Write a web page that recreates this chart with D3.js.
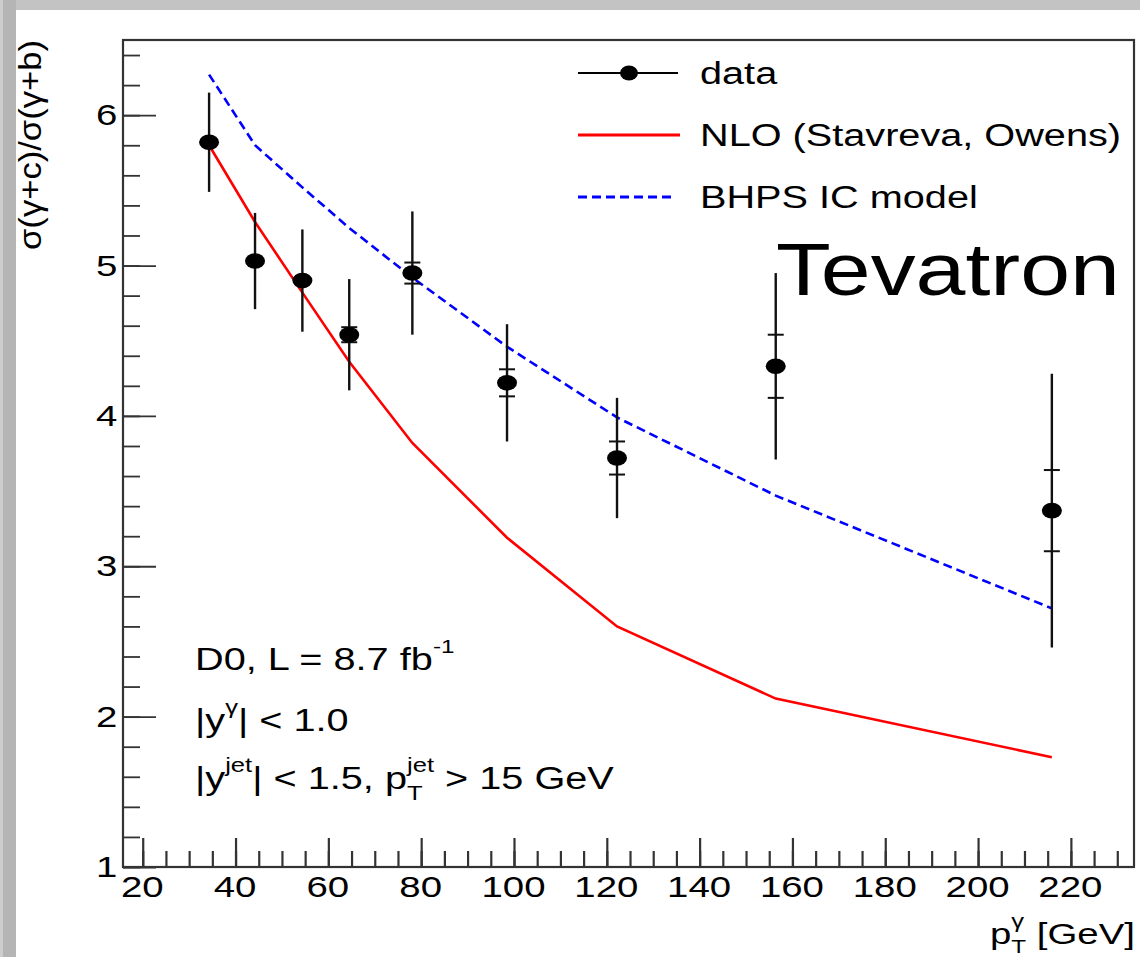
<!DOCTYPE html>
<html>
<head>
<meta charset="utf-8">
<script src="https://cdn.jsdelivr.net/npm/d3@7"></script>
<style>
  html, body { margin: 0; padding: 0; background: #ffffff; }
  svg { display: block; }
  text { font-family: "Liberation Sans", Arial, Helvetica, sans-serif; fill: #000; white-space: pre; }
</style>
</head>
<body>
<svg id="chart" width="1140" height="957"></svg>
<script>
// Photon transverse momentum bin centres [GeV]
const ptGamma = [34.3, 44.2, 54.4, 64.5, 78.1, 98.5, 122.2, 156.4, 215.9];
// Measured ratio sigma(gamma+c)/sigma(gamma+b)
const ratioData = [5.82, 5.03, 4.90, 4.54, 4.95, 4.22, 3.72, 4.33, 3.37];
// Statistical (inner) and total (outer) uncertainties
const statErr = [0.02, 0.02, 0.02, 0.05, 0.07, 0.09, 0.11, 0.21, 0.27];
const totalErr = [0.33, 0.32, 0.34, 0.37, 0.41, 0.39, 0.40, 0.62, 0.91];
// Theory curves
const nloValues = [5.80, 5.29, 4.82, 4.36, 3.82, 3.19, 2.60, 2.12, 1.73];
const bhpsValues = [6.27, 5.80, 5.52, 5.25, 4.92, 4.46, 3.99, 3.47, 2.72];
// Axis ticks
const xMajorTicks = [20, 40, 60, 80, 100, 120, 140, 160, 180, 200, 220];
const xMinorTicks = d3.range(20, 231, 5);
const yMajorTicks = [1, 2, 3, 4, 5, 6];
const yMinorTicks = d3.range(1, 6.41, 0.2);
// Legend entries
const legendLabels = ["data", "NLO (Stavreva, Owens)", "BHPS IC model"];

const SX = 1.28; // horizontal stretch of the chart's lettering and markers
const svg = d3.select("#chart");

// page frame
svg.append("rect").attr("x", 0).attr("y", 0).attr("width", 1140).attr("height", 957).attr("fill", "#ffffff");
svg.append("rect").attr("x", 0).attr("y", 0).attr("width", 1140).attr("height", 10).attr("fill", "#c3c3c3");
svg.append("rect").attr("x", 0).attr("y", 0).attr("width", 16).attr("height", 957).attr("fill", "#b5b5b5");
svg.append("rect").attr("x", 0).attr("y", 0).attr("width", 3).attr("height", 957).attr("fill", "#cdcdcd");

const L = 123, R = 1134, T = 40, B = 867;
const x = d3.scaleLinear().domain([15.75, 233.6]).range([L, R]);
const y = d3.scaleLinear().domain([1, 6.5]).range([B, T]);

// helper for text made of runs with super/subscripts
function richText(parent, px, py, parts, anchor) {
  const g = parent.append("g");
  const inner = g.append("g");
  let cur = 0;
  const put = (q, at) => {
    const el = inner.append("text").attr("x", at).attr("y", q.dy || 0)
      .attr("font-size", q.size).attr("xml:space", "preserve").text(q.t);
    return el.node().getComputedTextLength();
  };
  parts.forEach(p => {
    if (p.stack) {
      let w = 0;
      p.stack.forEach(q => { w = Math.max(w, put(q, cur)); });
      cur += w;
    } else {
      cur += put(p, cur);
    }
  });
  const tx = anchor === "end" ? px - cur * SX : px;
  g.attr("transform", `translate(${tx},${py}) scale(${SX},1)`);
  return g;
}

// minor ticks
svg.append("g").attr("transform", `translate(0,${B})`)
  .call(d3.axisBottom(x).tickValues(xMinorTicks).tickSize(-16).tickSizeOuter(0).tickFormat(""))
  .call(g => g.select(".domain").remove())
  .call(g => g.selectAll("line").attr("stroke", "#333").attr("stroke-width", 2.2));
svg.append("g").attr("transform", `translate(${L},0)`)
  .call(d3.axisLeft(y).tickValues(yMinorTicks).tickSize(-17).tickSizeOuter(0).tickFormat(""))
  .call(g => g.select(".domain").remove())
  .call(g => g.selectAll("line").attr("stroke", "#333").attr("stroke-width", 1.8));

// major ticks and labels
svg.append("g").attr("transform", `translate(0,${B})`)
  .call(d3.axisBottom(x).tickValues(xMajorTicks).tickSize(-29).tickSizeOuter(0).tickPadding(9).tickFormat(d3.format("d")))
  .call(g => g.select(".domain").remove())
  .call(g => g.selectAll("line").attr("stroke", "#333").attr("stroke-width", 2.2))
  .call(g => g.selectAll("text").attr("font-size", 30).attr("fill", "#000")
    .attr("font-family", "Liberation Sans, Arial, sans-serif")
    .attr("transform", `translate(-1,0) scale(${SX},1)`));
svg.append("g").attr("transform", `translate(${L},0)`)
  .call(d3.axisLeft(y).tickValues(yMajorTicks).tickSize(-33).tickSizeOuter(0).tickPadding(4.5).tickFormat(d3.format("d")))
  .call(g => g.select(".domain").remove())
  .call(g => g.selectAll("line").attr("stroke", "#333").attr("stroke-width", 1.8))
  .call(g => g.selectAll("text").attr("font-size", 30).attr("fill", "#000")
    .attr("font-family", "Liberation Sans, Arial, sans-serif")
    .attr("transform", `scale(${SX},1)`));

// plot frame
svg.append("rect").attr("x", L).attr("y", T).attr("width", R - L).attr("height", B - T)
  .attr("fill", "none").attr("stroke", "#333").attr("stroke-width", 2.2);

// theory curves
const lineGen = d3.line().x(d => x(d[0])).y(d => y(d[1]));
svg.append("path").datum(ptGamma.map((p, i) => [p, nloValues[i]]))
  .attr("d", lineGen).attr("fill", "none").attr("stroke", "#ff0000").attr("stroke-width", 2.6);
svg.append("path").datum(ptGamma.map((p, i) => [p, bhpsValues[i]]))
  .attr("d", lineGen).attr("fill", "none").attr("stroke", "#0000ff").attr("stroke-width", 2.6)
  .attr("stroke-dasharray", "9,5");

// data points with error bars
const pts = svg.append("g");
ptGamma.forEach((p, i) => {
  const cx = x(p);
  pts.append("line").attr("x1", cx).attr("x2", cx)
    .attr("y1", y(ratioData[i] + totalErr[i])).attr("y2", y(ratioData[i] - totalErr[i]))
    .attr("stroke", "#111").attr("stroke-width", 2.4);
  [1, -1].forEach(s => {
    pts.append("line").attr("x1", cx - 8).attr("x2", cx + 8)
      .attr("y1", y(ratioData[i] + s * statErr[i])).attr("y2", y(ratioData[i] + s * statErr[i]))
      .attr("stroke", "#111").attr("stroke-width", 2);
  });
  pts.append("ellipse").attr("cx", cx).attr("cy", y(ratioData[i]))
    .attr("rx", 10).attr("ry", 7.8).attr("fill", "#000");
});

// legend
const legY = [73, 135, 197];
const leg = svg.append("g");
leg.append("line").attr("x1", 578).attr("x2", 678).attr("y1", legY[0]).attr("y2", legY[0])
  .attr("stroke", "#000").attr("stroke-width", 2);
leg.append("ellipse").attr("cx", 629).attr("cy", legY[0]).attr("rx", 9).attr("ry", 7.4).attr("fill", "#000");
leg.append("line").attr("x1", 578).attr("x2", 680).attr("y1", legY[1]).attr("y2", legY[1])
  .attr("stroke", "#ff0000").attr("stroke-width", 3);
leg.append("line").attr("x1", 578).attr("x2", 676).attr("y1", legY[2]).attr("y2", legY[2])
  .attr("stroke", "#0000ff").attr("stroke-width", 3).attr("stroke-dasharray", "9,5");
legendLabels.forEach((t, i) => {
  richText(leg, 700, legY[i] + 11, [{ t: t, size: 31 }]);
});

// annotations
richText(svg, 195, 670, [{ t: "D0, L = 8.7 fb", size: 31 }, { t: "-1", size: 19, dy: -17 }]);
richText(svg, 195, 731, [{ t: "|y", size: 31 }, { t: "γ", size: 20, dy: -17 }, { t: "| < 1.0", size: 31 }]);
richText(svg, 195, 789, [
  { t: "|y", size: 31 }, { t: "jet", size: 20, dy: -17 }, { t: "| < 1.5, p", size: 31 },
  { stack: [{ t: "jet", size: 20, dy: -17 }, { t: "T", size: 20, dy: 11 }] },
  { t: " > 15 GeV", size: 31 }
]);

// axis titles
richText(svg, 1135, 944, [
  { t: "p", size: 30 },
  { stack: [{ t: "γ", size: 20, dy: -16 }, { t: "T", size: 19, dy: 9 }] },
  { t: " [GeV]", size: 30 }
], "end");

svg.append("g").attr("transform", `translate(41,40) scale(${SX},1) rotate(-90)`)
  .append("text").attr("text-anchor", "end").attr("font-size", 25)
  .attr("textLength", 210).attr("lengthAdjust", "spacingAndGlyphs")
  .text("σ(γ+c)/σ(γ+b)");

// slide caption
svg.append("text").attr("x", 776).attr("y", 295).attr("font-size", 74)
  .attr("font-family", "Lato, 'Open Sans', sans-serif").attr("fill", "#000")
  .attr("textLength", 344).attr("lengthAdjust", "spacingAndGlyphs")
  .text("Tevatron");
</script>
</body>
</html>
